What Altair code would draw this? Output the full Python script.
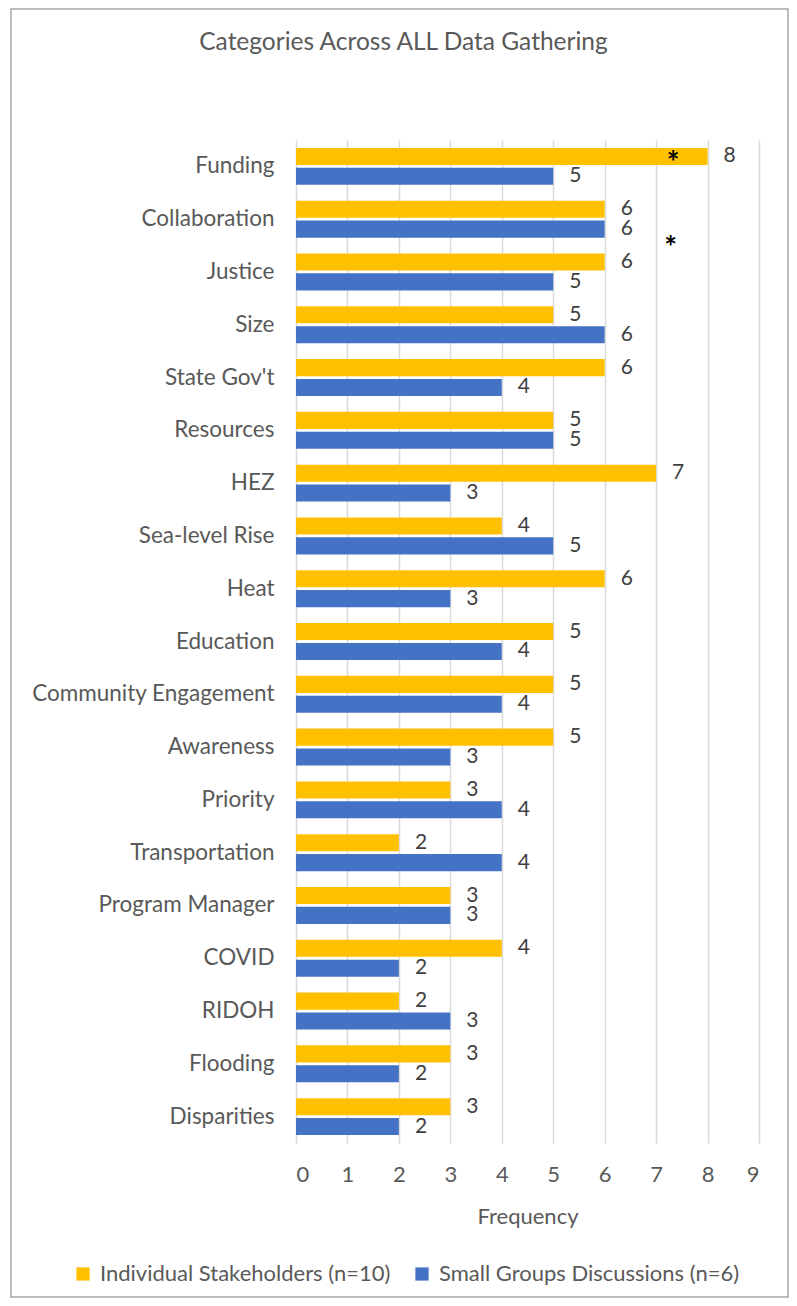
import altair as alt
import pandas as pd

categories = ["Funding", "Collaboration", "Justice", "Size", "State Gov't", "Resources",
              "HEZ", "Sea-level Rise", "Heat", "Education", "Community Engagement",
              "Awareness", "Priority", "Transportation", "Program Manager", "COVID",
              "RIDOH", "Flooding", "Disparities"]
individual = [8, 6, 6, 5, 6, 5, 7, 4, 6, 5, 5, 5, 3, 2, 3, 4, 2, 3, 3]
small_groups = [5, 6, 5, 6, 4, 5, 3, 5, 3, 4, 4, 3, 4, 4, 3, 2, 3, 2, 2]
series_names = ["Individual Stakeholders (n=10)", "Small Groups Discussions (n=6)"]
series_colors = ["#FFC000", "#4472C4"]

# asterisk annotations (category, series, x position)
star_cats = ["Funding", "Collaboration"]
star_series = [series_names[0], series_names[1]]
star_x = [7.33, 7.28]

rows = []
for c, a, b in zip(categories, individual, small_groups):
    rows.append({"category": c, "series": series_names[0], "value": a})
    rows.append({"category": c, "series": series_names[1], "value": b})
df = pd.DataFrame(rows)
stars = pd.DataFrame({"category": star_cats, "series": star_series, "x": star_x, "t": ["*", "*"]})

FONT = "Lato"
TXT = "#595959"

y_enc = alt.Y("category:N", sort=categories, title=None,
              scale=alt.Scale(paddingInner=0.3, paddingOuter=0.15),
              axis=alt.Axis(labelFontSize=22.5, labelColor=TXT, labelFont=FONT,
                            ticks=False, domain=False, labelPadding=22, grid=False,
                            labelLimit=320))
yoff = alt.YOffset("series:N", sort=series_names, scale=alt.Scale(paddingInner=0.14))

bars = alt.Chart(df).mark_bar().encode(
    x=alt.X("value:Q", title="Frequency",
            scale=alt.Scale(domain=[0, 9], nice=False),
            axis=alt.Axis(values=list(range(10)), labelFontSize=22, labelColor=TXT,
                          labelFont=FONT, ticks=False, domain=False, labelPadding=21,
                          grid=True, gridColor="#D9D9D9", gridWidth=1.5,
                          titleFontSize=22, titleColor=TXT, titleFont=FONT,
                          titleFontWeight="normal", titlePadding=21)),
    y=y_enc,
    yOffset=yoff,
    color=alt.Color("series:N", sort=series_names,
                    scale=alt.Scale(domain=series_names, range=series_colors),
                    legend=alt.Legend(title=None, orient="none", direction="horizontal",
                                      legendX=-224, legendY=1123,
                                      symbolType="square", symbolSize=175,
                                      symbolStrokeWidth=0, labelFontSize=22,
                                      labelColor=TXT, labelFont=FONT,
                                      labelOffset=6, columnPadding=20,
                                      labelLimit=400)),
)

labels = alt.Chart(df).mark_text(align="left", baseline="middle", dx=16,
                                 fontSize=21, font=FONT, color="#404040").encode(
    x="value:Q", y=alt.Y("category:N", sort=categories), yOffset=yoff,
    text="value:Q")

star_base = alt.Chart(stars).encode(
    x="x:Q", y=alt.Y("category:N", sort=categories),
    yOffset=alt.YOffset("series:N", sort=series_names), text="t:N")
star1 = star_base.mark_text(align="center", baseline="middle", dy=8,
                            fontSize=30, fontWeight="bold", font=FONT,
                            color="#000000").transform_filter(
    alt.datum.category == star_cats[0])
star2 = star_base.mark_text(align="center", baseline="middle", dy=20,
                            fontSize=30, fontWeight="bold", font=FONT,
                            color="#000000").transform_filter(
    alt.datum.category == star_cats[1])

border = alt.Chart(pd.DataFrame({"a": [0]})).mark_rect(
    fill=None, stroke="#A6A6A6", strokeWidth=1.5, clip=False).encode(
    x=alt.value(-285), x2=alt.value(492), y=alt.value(-131), y2=alt.value(1157))

chart = alt.layer(border, bars, labels, star1, star2).properties(
    width=463, height=1003,
    title=alt.TitleParams("Categories Across ALL Data Gathering", fontSize=24.5,
                          font=FONT, color=TXT, fontWeight="normal",
                          anchor="middle", dx=-124, offset=-47),
    autosize=alt.AutoSizeParams(type="none"),
    padding={"left": 288, "top": 132, "right": 30, "bottom": 155},
).configure_view(stroke=None)

chart.save("out.html", embed_options={"renderer": "svg", "actions": False})
